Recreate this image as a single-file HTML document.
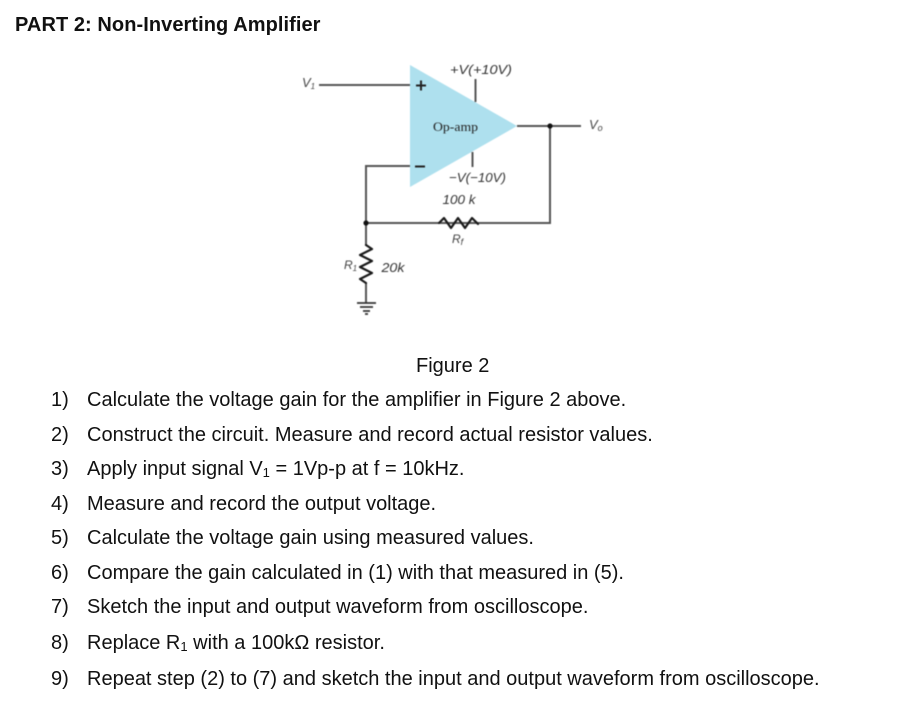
<!DOCTYPE html>
<html><head><meta charset="utf-8">
<style>
html,body{margin:0;padding:0;background:#fff;width:906px;height:723px;overflow:hidden}
.t{position:absolute;white-space:nowrap;font-family:"Liberation Sans",sans-serif;font-size:20px;color:#111;line-height:24px}
svg{position:absolute;left:0;top:0}
sub{font-size:13px;line-height:0;vertical-align:-2px}
</style></head><body>
<svg width="906" height="723" viewBox="0 0 906 723" font-family="Liberation Sans, sans-serif" style="filter:blur(0.5px)">
<polygon points="410,65 517,126 410,187" fill="#aee0ee"/>
<g fill="none" stroke="#555" stroke-width="2">
<path d="M319,85H410"/>
<path d="M475.500,79V102"/>
<path d="M472.500,152V167"/>
<path d="M517,126H581"/>
<path d="M550,126V223H366"/>
<path d="M410,166H366V245"/>
<path d="M366,283V303"/>
</g>
<g fill="none" stroke="#1a1a1a" stroke-width="2.2" stroke-linejoin="round" stroke-linecap="round">
<path d="M439,223 L444,218 L451,228 L458,218 L465,228 L472,218 L478,224"/>
<path d="M366,245 L372,249 L360,255 L372,261 L360,267 L372,273 L360,279 L366,283"/>
</g>
<path d="M357,303H376M360,307H373M363,311H370M365,314H368" fill="none" stroke="#333" stroke-width="1.8"/>
<circle cx="550" cy="126" r="2.6" fill="#111"/>
<circle cx="366" cy="223" r="2.6" fill="#111"/>
<path d="M416,85.500H426M421,80.500V90.500" stroke="#222" stroke-width="2"/>
<path d="M415,166.500H425" stroke="#222" stroke-width="2"/>
<g fill="#333" font-style="italic" font-size="13">
<text x="450" y="74" textLength="62" lengthAdjust="spacingAndGlyphs">+V(+10V)</text>
<text x="449" y="182" textLength="57" lengthAdjust="spacingAndGlyphs">−V(−10V)</text>
<text x="442.500" y="204" textLength="33" lengthAdjust="spacingAndGlyphs">100 k</text>
<text x="381.500" y="272" textLength="23" lengthAdjust="spacingAndGlyphs">20k</text>
<text x="302" y="87" fill="#444">V<tspan font-size="8" dy="2">1</tspan></text>
<text x="589" y="129" fill="#444">V<tspan font-size="9" dy="2">o</tspan></text>
<text x="452" y="243" font-size="12" fill="#444">R<tspan font-size="9" dy="2">f</tspan></text>
<text x="344" y="269" font-size="12" fill="#444">R<tspan font-size="8" dy="2">1</tspan></text>
</g>
<text x="433" y="131" font-family="Liberation Serif, serif" font-size="13" fill="#222" textLength="45" lengthAdjust="spacingAndGlyphs">Op-amp</text>
</svg>
<div class="t" style="left:15px;top:13px;font-weight:bold;letter-spacing:0.07px">PART 2: Non-Inverting Amplifier</div>
<div class="t" style="left:416px;top:354px">Figure 2</div>
<div class="t" style="left:51px;top:388px">1)</div><div class="t" style="left:87px;top:388px">Calculate the voltage gain for the amplifier in Figure 2 above.</div>
<div class="t" style="left:51px;top:423px">2)</div><div class="t" style="left:87px;top:423px">Construct the circuit. Measure and record actual resistor values.</div>
<div class="t" style="left:51px;top:457px">3)</div><div class="t" style="left:87px;top:457px">Apply input signal V<sub>1</sub> = 1Vp-p at f = 10kHz.</div>
<div class="t" style="left:51px;top:492px">4)</div><div class="t" style="left:87px;top:492px">Measure and record the output voltage.</div>
<div class="t" style="left:51px;top:526px">5)</div><div class="t" style="left:87px;top:526px">Calculate the voltage gain using measured values.</div>
<div class="t" style="left:51px;top:561px">6)</div><div class="t" style="left:87px;top:561px">Compare the gain calculated in (1) with that measured in (5).</div>
<div class="t" style="left:51px;top:595px">7)</div><div class="t" style="left:87px;top:595px">Sketch the input and output waveform from oscilloscope.</div>
<div class="t" style="left:51px;top:631px">8)</div><div class="t" style="left:87px;top:631px">Replace R<sub>1</sub> with a 100kΩ resistor.</div>
<div class="t" style="left:51px;top:667px">9)</div><div class="t" style="left:87px;top:667px">Repeat step (2) to (7) and sketch the input and output waveform from oscilloscope.</div>
</body></html>
